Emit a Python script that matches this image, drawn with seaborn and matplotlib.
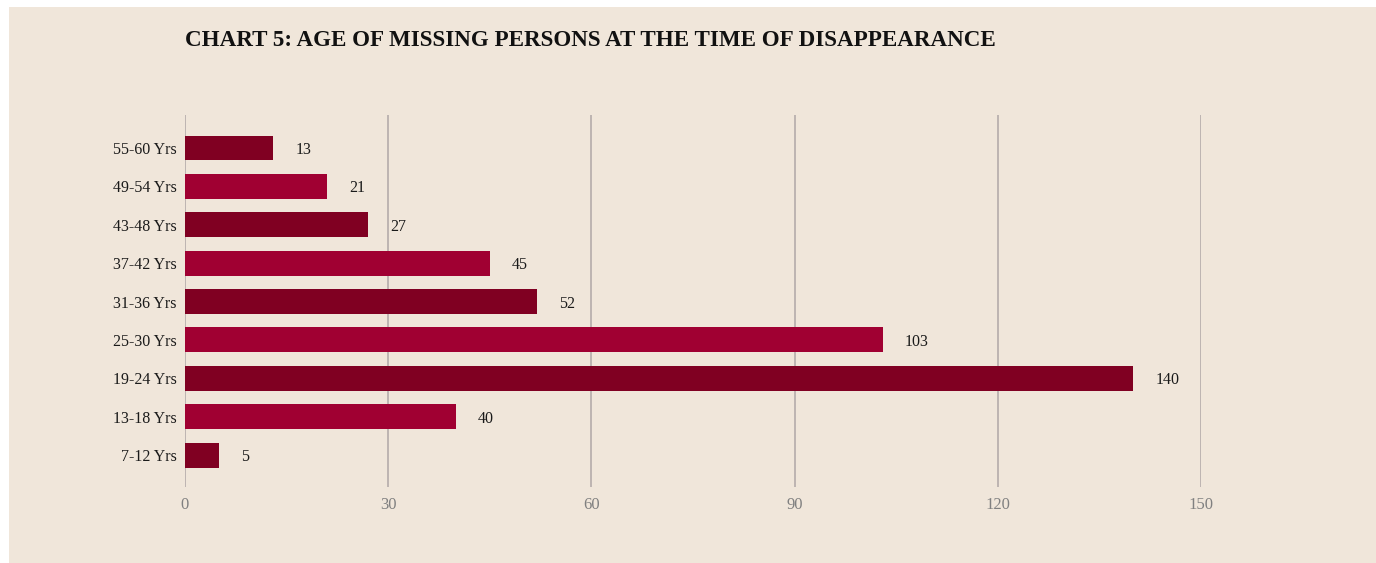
import matplotlib
matplotlib.use('Agg')
from matplotlib import pyplot as plt
import seaborn as sns
import pandas as pd

age_groups = ['55-60 Yrs', '49-54 Yrs', '43-48 Yrs', '37-42 Yrs', '31-36 Yrs',
              '25-30 Yrs', '19-24 Yrs', '13-18 Yrs', '7-12 Yrs']
counts = [13, 21, 27, 45, 52, 103, 140, 40, 5]
x_ticks = [0, 30, 60, 90, 120, 150]
title = 'CHART 5: AGE OF MISSING PERSONS AT THE TIME OF DISAPPEARANCE'

dark = '#800022'
light = '#A00032'
bg = '#F0E6DA'

sns.set_theme(style='white')
plt.rcParams['font.family'] = ['Liberation Serif', 'DejaVu Serif']

df = pd.DataFrame({'age': age_groups, 'count': counts})
palette = {a: (dark if i % 2 == 0 else light) for i, a in enumerate(age_groups)}

fig = plt.figure(figsize=(13.76, 5.63), dpi=100, facecolor='white')
# beige panel behind everything
fig.patches.append(plt.Rectangle((9 / 1376, 0), 1, 1 - 7 / 563,
                                 transform=fig.transFigure, facecolor=bg,
                                 edgecolor='none', zorder=-5))
ax = fig.add_axes([185 / 1376, 1 - 487 / 563, (1201 - 185) / 1376, (487 - 115) / 563])
ax.set_facecolor(bg)

sns.barplot(data=df, x='count', y='age', hue='age', palette=palette,
            orient='h', width=0.65, legend=False, ax=ax, saturation=1,
            linewidth=0, zorder=3)

for c in ax.containers:
    lbls = ax.bar_label(c, padding=16, fontsize=11.5, color='#1a1a1a')
    for t in lbls:
        t.set_va('center_baseline')

ax.set_xlim(0, 150)
ax.set_ylim(8.83, -0.86)
ax.set_xticks(x_ticks)
ax.set_xticklabels([str(t) for t in x_ticks], fontsize=12, color='#808080')
ax.tick_params(axis='y', labelsize=11.5, labelcolor='#1a1a1a', length=0, pad=6)
ax.tick_params(axis='x', length=0, pad=7)
ax.xaxis.grid(True, color='#b5acab', linewidth=1.2, zorder=0)
ax.yaxis.grid(False)
ax.set_axisbelow(True)
for s in ax.spines.values():
    s.set_visible(False)
ax.set_xlabel('')
ax.set_ylabel('')

fig.text(185 / 1376, 1 - 40 / 563, title, fontsize=16.6, fontweight='bold',
         color='#111111', va='center', ha='left')

fig.savefig('out.png', dpi=100, facecolor='white')
